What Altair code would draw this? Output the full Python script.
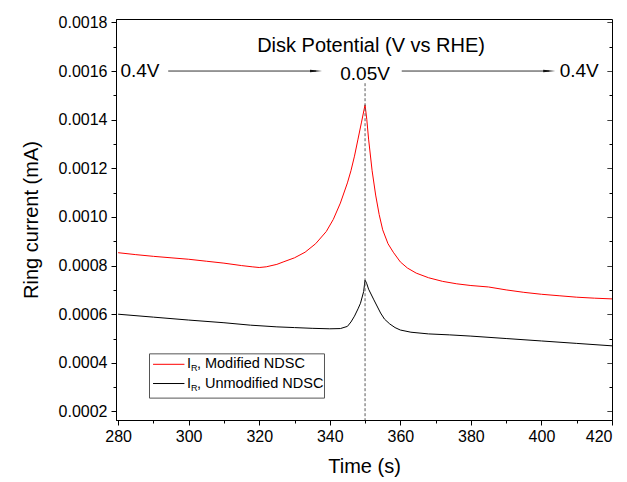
import altair as alt
import pandas as pd

FONT = "Liberation Sans"

# ---- data ----
t_mod = [280, 285, 290, 295, 300, 305, 310, 315, 318, 320, 322, 325, 327, 330, 333,
         336, 339, 341, 343, 345, 346, 347, 348, 349, 350, 350.5, 351, 352, 353, 354,
         355, 356.5, 358, 360, 362, 364.5, 368, 372, 376, 380, 385, 390, 395, 400,
         405, 410, 415, 420]
i_mod = [0.000853, 0.000845, 0.000838, 0.000832, 0.000826, 0.000818, 0.000810, 0.000800,
         0.000795, 0.000792, 0.000795, 0.000805, 0.000816, 0.000832, 0.000855, 0.000890,
         0.000940, 0.000990, 0.001057, 0.001140, 0.001190, 0.001250, 0.001320, 0.001390,
         0.001461, 0.001400, 0.001320, 0.001190, 0.001090, 0.001010, 0.000947, 0.000890,
         0.000855, 0.000815, 0.000790, 0.000769, 0.000750, 0.000735, 0.000725, 0.000718,
         0.000712, 0.000700, 0.000690, 0.000682, 0.000676, 0.000670, 0.000666, 0.000663]

t_unm = [280, 290, 300, 310, 317.5, 325, 330, 335, 340, 343, 345, 346, 347, 348, 348.7,
         349.6, 350, 350.5, 351, 352.5, 354.4, 355.5, 357, 358.5, 360, 363, 368, 374, 380, 390,
         400, 410, 420]
i_unm = [0.000600, 0.000588, 0.000576, 0.000565, 0.000555, 0.000548, 0.000545, 0.000542,
         0.000540, 0.000541, 0.000550, 0.000568, 0.000592, 0.000622, 0.000645, 0.000693,
         0.000741, 0.000725, 0.000703, 0.000659, 0.000605, 0.000580, 0.000560, 0.000545,
         0.000535, 0.000526, 0.000519, 0.000515, 0.000510, 0.000500, 0.000490, 0.000480,
         0.000470]

x_ticks = list(range(280, 421, 10))
y_ticks = [round(0.0002 + 0.0001 * k, 4) for k in range(17)]
x_domain = [279.4, 420]
y_domain = [0.000165, 0.001814]

# annotation texts / positions (data units)
title_text = "Disk Potential (V vs RHE)"
ann_labels = ["0.4V", "0.05V", "0.4V"]
ann_t = [286.2, 350.0, 410.7]
ann_v = [0.001574, 0.001563, 0.001574]
arrow_t1 = [294.2, 360.4]
arrow_t2 = [336.1, 402.2]
arrow_v = 0.0016
marker_t = 350
marker_top = 0.00155

legend_names = ["Modified NDSC", "Unmodified NDSC"]
legend_colors = ["#ff0000", "#000000"]

# ---- frames ----
df = pd.concat([
    pd.DataFrame({"t": t_mod, "i": i_mod, "s": legend_names[0]}),
    pd.DataFrame({"t": t_unm, "i": i_unm, "s": legend_names[1]}),
])

xscale = alt.Scale(domain=x_domain, nice=False, zero=False)
yscale = alt.Scale(domain=y_domain, nice=False, zero=False)

x_axis = alt.Axis(
    values=x_ticks, format="d", title="Time (s)",
    labelExpr="datum.value % 20 == 0 ? datum.label : ''",
    tickSize={"condition": {"test": "datum.value % 20 == 0", "value": 5}, "value": 3},
    labelPadding=3, titlePadding=12, grid=False,
)
y_axis = alt.Axis(
    values=y_ticks, format=".4f", title="Ring current (mA)",
    labelExpr="round(datum.value * 10000) % 2 == 0 ? datum.label : ''",
    tickSize={"condition": {"test": "round(datum.value * 10000) % 2 == 0", "value": 5}, "value": 3},
    labelPadding=4, titlePadding=17, grid=False,
)
y_axis_right = alt.Axis(
    values=y_ticks, orient="right", labels=False, domain=False, title=None,
    tickSize=5, offset=-5, grid=False,
    tickDash={"condition": {"test": "round(datum.value * 10000) % 2 == 0", "value": [1, 0]},
              "value": [0, 2, 3, 2]},
)


def X(field):
    return alt.X(field, type="quantitative", scale=xscale, axis=x_axis)


def Y(field):
    return alt.Y(field, type="quantitative", scale=yscale, axis=y_axis)


lines = alt.Chart(df).mark_line(strokeWidth=1, clip=True).encode(
    x=X("t"), y=Y("i"),
    color=alt.Color("s:N", scale=alt.Scale(domain=legend_names, range=legend_colors), legend=None),
    detail="s:N",
)

title_df = pd.DataFrame({"t": [351.7], "v": [0.001680], "txt": [title_text]})
title_mark = alt.Chart(title_df).mark_text(
    font=FONT, fontSize=20, align="center", baseline="alphabetic", color="black"
).encode(x=X("t"), y=Y("v"), text="txt:N")

ann_df = pd.DataFrame({"t": ann_t, "v": ann_v, "txt": ann_labels})
ann_mark = alt.Chart(ann_df).mark_text(
    font=FONT, fontSize=19, align="center", baseline="alphabetic", color="black"
).encode(x=X("t"), y=Y("v"), text="txt:N")

arrow_df = pd.DataFrame({"t1": arrow_t1, "t2": arrow_t2, "v": [arrow_v, arrow_v]})
arrow_lines = alt.Chart(arrow_df).mark_rule(color="#333333", strokeWidth=1).encode(
    x=X("t1"), x2="t2", y=Y("v"))
arrow_heads = alt.Chart(arrow_df).mark_point(
    shape="M-1,-0.22L1,0L-1,0.22Z", size=144, filled=True, color="#111111", opacity=1
).encode(x=X("t2"), y=Y("v"))

# legend (manual, so the subscript can be drawn)
leg_box_df = pd.DataFrame({"t1": [288.9], "t2": [338.5], "v1": [0.000437], "v2": [0.000255]})
leg_box = alt.Chart(leg_box_df).mark_rect(
    fill="white", stroke="#555555", strokeWidth=1
).encode(x=X("t1"), x2="t2", y=Y("v1"), y2="v2")

leg_df = pd.DataFrame({
    "t1": [289.9, 289.9], "t2": [298.8, 298.8],
    "v": [0.000394, 0.000315],
    "tt": [299.5, 299.5],
    "name": [", " + n for n in legend_names],
    "c": legend_names,
})
leg_color = alt.Color("c:N", scale=alt.Scale(domain=legend_names, range=legend_colors), legend=None)
leg_lines = alt.Chart(leg_df).mark_rule(strokeWidth=1).encode(
    x=X("t1"), x2="t2", y=Y("v"), color=leg_color)
leg_I = alt.Chart(leg_df).mark_text(
    font=FONT, fontSize=14.5, align="left", baseline="middle", color="black", text="I"
).encode(x=X("tt"), y=Y("v"))
leg_R = alt.Chart(leg_df).mark_text(
    font=FONT, fontSize=9, align="left", baseline="middle", color="black", text="R", dx=4, dy=4
).encode(x=X("tt"), y=Y("v"))
leg_txt = alt.Chart(leg_df).mark_text(
    font=FONT, fontSize=14.5, align="left", baseline="middle", color="black", dx=10
).encode(x=X("tt"), y=Y("v"), text="name:N")

inner = alt.layer(lines, title_mark, ann_mark, arrow_lines, arrow_heads,
                  leg_box, leg_lines, leg_I, leg_R, leg_txt)

marker_df = pd.DataFrame({"t": [marker_t], "v1": [marker_top], "v2": [y_domain[0]]})
marker = alt.Chart(marker_df).mark_rule(color="#5a5a5a", strokeWidth=1, strokeDash=[3, 2]).encode(
    x=X("t"), y=alt.Y("v1", type="quantitative", scale=yscale, axis=y_axis_right), y2="v2")

chart = alt.layer(inner, marker).resolve_scale(y="shared").resolve_axis(y="independent").properties(
    width=496, height=401,
    autosize=alt.AutoSizeParams(type="none"),
    padding={"left": 108, "top": 11, "right": 7, "bottom": 62},
    background="white",
).configure_view(
    stroke="black", strokeWidth=1
).configure_axis(
    labelFont=FONT, titleFont=FONT, labelFontSize=16, titleFontSize=20,
    labelColor="black", titleColor="black", titleFontWeight="normal",
    domainColor="black", tickColor="black", domainWidth=1, tickWidth=1,
)

chart.save("out.html", embed_options={"renderer": "svg", "actions": False})
